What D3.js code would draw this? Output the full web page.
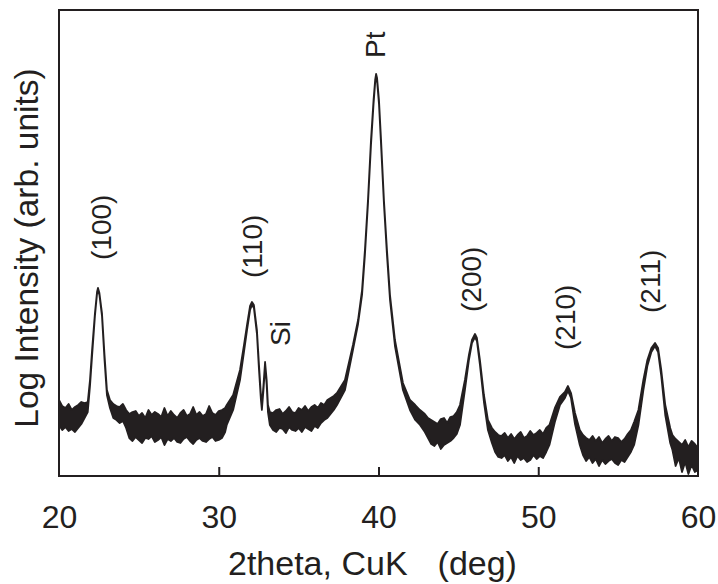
<!DOCTYPE html>
<html>
<head>
<meta charset="utf-8">
<script src="https://cdn.jsdelivr.net/npm/d3@7"></script>
<style>
  body { margin: 0; background: #fff; }
  svg { display: block; font-family: "Liberation Sans", Arial, Helvetica, sans-serif; }
</style>
</head>
<body>
<svg id="chart" width="718" height="584"></svg>
<script>
// 2theta (deg) and the top / bottom of the noisy trace (log intensity, arb. units)
var twoTheta = [
  20.0, 20.2, 20.4, 20.6, 20.8, 21.0, 21.2, 21.4, 21.6,
  21.8, 21.94, 22.07, 22.25, 22.38, 22.44, 22.53, 22.69, 22.85, 23.0, 23.19, 23.4,
  23.6, 23.8, 24.0, 24.2,
  24.4, 24.6, 24.8, 25.0, 25.2, 25.4, 25.6, 25.8, 26.0, 26.2, 26.4, 26.6, 26.8, 27.0, 27.2, 27.4,
  27.6, 27.8, 28.0, 28.2, 28.4, 28.6, 28.8, 29.0, 29.2, 29.4, 29.6, 29.8, 30.0, 30.2, 30.4,
  30.5, 30.9, 31.33, 31.58, 31.77, 31.96, 32.08, 32.2, 32.39, 32.52, 32.64, 32.7, 32.8, 32.9, 33.0, 33.08, 33.2,
  33.4, 33.6, 33.8, 34.0, 34.2, 34.4, 34.6, 34.8, 35.0, 35.2, 35.4, 35.6, 35.8, 36.0, 36.2,
  36.4, 36.6, 36.8, 37.0, 37.2,
  37.4, 37.9, 38.4, 38.72, 38.97, 39.15, 39.34, 39.53, 39.69, 39.79, 39.85, 39.91, 40.03, 40.16, 40.34,
  40.53, 40.72, 41.03, 41.53, 41.97, 42.3, 42.6, 42.9, 43.1,
  43.3, 43.5, 43.7, 43.9, 44.1, 44.3, 44.5, 44.7,
  44.9, 45.1, 45.41, 45.66, 45.85, 46.04, 46.16, 46.35, 46.6, 46.85, 47.1,
  47.3, 47.5, 47.7, 47.9, 48.1, 48.3, 48.5, 48.7, 48.9, 49.1, 49.3, 49.5, 49.7, 49.9, 50.1, 50.3, 50.5,
  50.7, 51.04, 51.36, 51.67, 51.86, 52.05, 52.3, 52.6,
  52.8, 53.0, 53.2, 53.4, 53.6, 53.8, 54.0, 54.2, 54.4, 54.6, 54.8, 55.0, 55.2, 55.4, 55.6, 55.8,
  56.0, 56.27, 56.58, 56.83, 57.08, 57.31, 57.5, 57.7, 57.95, 58.26,
  58.4, 58.6, 58.8, 59.0, 59.2, 59.4, 59.6, 59.8, 60.0
];
var traceHigh = [
  7.6, 7.0, 6.8, 7.2, 6.6, 6.9, 7.1, 7.4, 7.3,
  7.4, 9.6, 12.6, 16.3, 18.4, 18.8, 18.3, 16.3, 12.1, 8.6, 7.6, 7.2,
  7.0, 6.9, 7.2, 6.6,
  6.2, 6.4, 6.5, 6.0, 6.3, 5.8, 6.6, 6.1, 6.4, 6.2, 5.9, 6.8, 6.0, 6.5, 6.1, 5.8,
  6.3, 6.6, 6.0, 6.2, 6.9, 6.1, 6.4, 6.0, 6.2, 7.0, 6.3, 6.1, 6.5, 6.6, 6.8,
  7.1, 8.1, 10.6, 13.1, 15.1, 17.0, 17.4, 17.1, 14.6, 11.1, 8.1, 7.1, 9.1, 11.4, 9.6, 7.1, 6.4,
  6.3, 6.6, 6.7, 6.2, 6.5, 6.9, 6.4, 6.3, 6.8, 6.6, 7.0, 6.5, 6.9, 7.1, 6.8,
  7.3, 7.1, 7.6, 7.8, 8.0,
  8.3, 9.6, 13.1, 15.6, 18.6, 22.6, 27.6, 33.6, 37.6, 39.6, 40.2, 39.8, 37.6, 33.6, 27.6,
  22.6, 18.1, 13.6, 9.3, 7.6, 7.1, 6.6, 6.2, 5.8,
  5.6, 5.4, 5.2, 5.7, 5.8, 5.3, 5.9, 6.0,
  6.4, 7.1, 9.6, 12.1, 13.6, 14.2, 13.8, 11.6, 8.1, 5.6, 4.8,
  4.4, 4.1, 4.0, 4.3, 3.8, 4.2, 3.7, 4.1, 4.4, 3.8, 4.0, 4.5, 4.1, 4.3, 4.6, 4.2, 4.8,
  5.1, 6.8, 7.9, 8.4, 9.0, 8.3, 6.3, 4.6,
  4.1, 3.8, 3.6, 4.0, 3.5, 3.9, 3.3, 3.7, 4.0, 3.5, 3.9, 3.8, 3.4, 3.7, 4.2, 4.6,
  5.4, 6.6, 9.6, 11.6, 12.8, 13.3, 12.8, 10.6, 7.1, 4.8,
  4.1, 3.7, 3.4, 3.1, 3.6, 2.9, 3.5, 3.2, 2.8
];
var traceLow = [
  5.1, 4.6, 4.9, 4.5, 4.7, 4.4, 4.8, 5.2, 5.8,
  6.4, 9.0, 12.0, 16.0, 18.2, 18.6, 18.1, 16.0, 11.6, 8.1, 6.8, 5.8,
  5.6, 5.3, 5.5, 4.8,
  3.8, 3.5, 3.9, 3.6, 3.3, 3.8, 3.7, 4.0, 3.4, 3.6, 3.9, 3.1, 3.7, 3.5, 3.8, 3.4,
  3.3, 3.7, 3.9, 3.5, 3.2, 3.6, 3.8, 3.5, 3.4, 3.7, 3.9, 3.5, 3.6, 3.8, 4.4,
  5.1, 6.6, 9.6, 12.4, 14.6, 16.6, 17.1, 16.8, 14.2, 10.6, 7.6, 6.6, 8.6, 11.0, 9.1, 6.4, 5.1,
  4.6, 4.4, 4.8, 4.7, 4.3, 4.9, 4.6, 4.5, 4.8, 4.4, 4.9, 4.7, 4.5, 5.0, 4.8,
  5.3, 5.6, 5.8, 6.2, 6.6,
  7.1, 8.6, 12.6, 15.2, 18.1, 22.1, 27.2, 33.1, 37.2, 39.3, 39.9, 39.5, 37.2, 33.1, 27.2,
  22.1, 17.6, 13.0, 8.6, 6.6, 5.6, 5.1, 4.4, 3.8,
  3.2, 3.0, 3.4, 2.7, 3.1, 3.3, 3.5, 3.8,
  4.2, 5.1, 8.6, 11.6, 13.3, 13.9, 13.5, 11.1, 7.4, 4.6, 3.3,
  2.4, 1.9, 1.8, 2.1, 1.5, 1.9, 1.3, 2.0, 1.6, 1.8, 1.4, 1.6, 2.1, 1.7, 2.0, 1.8, 2.4,
  3.1, 5.4, 7.1, 7.8, 8.5, 7.8, 5.2, 3.1,
  2.1, 1.5, 1.9, 1.3, 1.7, 1.0, 1.6, 1.2, 1.5, 1.7, 1.3, 1.1, 1.6, 1.4, 1.9, 2.4,
  3.1, 5.1, 8.6, 11.0, 12.4, 13.0, 12.4, 10.0, 6.1, 3.3,
  2.6, 1.0, 1.8, 0.4, 1.4, 0.2, 1.1, 0.4, 0.6
];

// peak annotations: name, 2theta of the label, height where the label starts
var peakNames  = ["(100)", "(110)", "Si", "Pt", "(200)", "(210)", "(211)"];
var peakAngles = [22.7, 32.2, 33.96, 39.9, 45.92, 51.8, 57.12];
var peakLabelAt = [21.6, 19.8, 13.0, 41.8, 16.4, 12.6, 16.3];

var xTicks = [20, 30, 40, 50, 60];

var ink = "#231f20";
var svg = d3.select("#chart");
var margin = {left: 59, right: 20, top: 10, bottom: 108};
var width = 718, height = 584;

var x = d3.scaleLinear().domain([20, 60]).range([margin.left, width - margin.right]);
var y = d3.scaleLinear().domain([0, 46.6]).range([height - margin.bottom, margin.top]);

var rows = twoTheta.map(function(t, i) {
  return {t: t, hi: traceHigh[i], lo: traceLow[i]};
});

// trace band
var band = d3.area()
  .x(function(d) { return x(d.t); })
  .y0(function(d) { return y(d.lo); })
  .y1(function(d) { return y(d.hi); });

svg.append("path")
  .datum(rows)
  .attr("d", band)
  .attr("fill", ink)
  .attr("stroke", ink)
  .attr("stroke-width", 1.8)
  .attr("stroke-linejoin", "round");

// frame
svg.append("rect")
  .attr("x", x(20))
  .attr("y", y(46.6))
  .attr("width", x(60) - x(20))
  .attr("height", y(0) - y(46.6))
  .attr("fill", "none")
  .attr("stroke", ink)
  .attr("stroke-width", 2);

// bottom axis, ticks pointing inward
var xAxis = d3.axisBottom(x)
  .tickValues(xTicks)
  .tickSizeInner(-9)
  .tickSizeOuter(0)
  .tickPadding(29)
  .tickFormat(d3.format("d"));

var gx = svg.append("g")
  .attr("transform", "translate(0," + y(0) + ")")
  .call(xAxis);
gx.select(".domain").remove();
gx.selectAll(".tick line")
  .attr("stroke", ink)
  .attr("stroke-width", 2)
  .attr("opacity", function(d) { return (d === 20 || d === 60) ? 0 : 1; });
gx.selectAll(".tick text")
  .attr("fill", ink)
  .style("font-size", "32px")
  .attr("dy", "0.71em");

// axis titles
var xTitle = svg.append("text")
  .attr("x", 228)
  .attr("y", 575)
  .attr("fill", ink)
  .style("font-size", "34px");
xTitle.append("tspan").text("2theta, CuK");
xTitle.append("tspan").attr("dx", 30).text("(deg)");

svg.append("text")
  .attr("transform", "translate(38," + 248 + ") rotate(-90)")
  .attr("text-anchor", "middle")
  .attr("fill", ink)
  .style("font-size", "33.5px")
  .text("Log Intensity (arb. units)");

// peak labels
svg.selectAll(".peak")
  .data(peakNames)
  .enter().append("text")
  .attr("class", "peak")
  .attr("transform", function(d, i) {
    return "translate(" + x(peakAngles[i]) + "," + y(peakLabelAt[i]) + ") rotate(-90)";
  })
  .attr("dy", "0.3em")
  .attr("fill", ink)
  .style("font-size", "28px")
  .text(function(d) { return d; });
</script>
</body>
</html>
